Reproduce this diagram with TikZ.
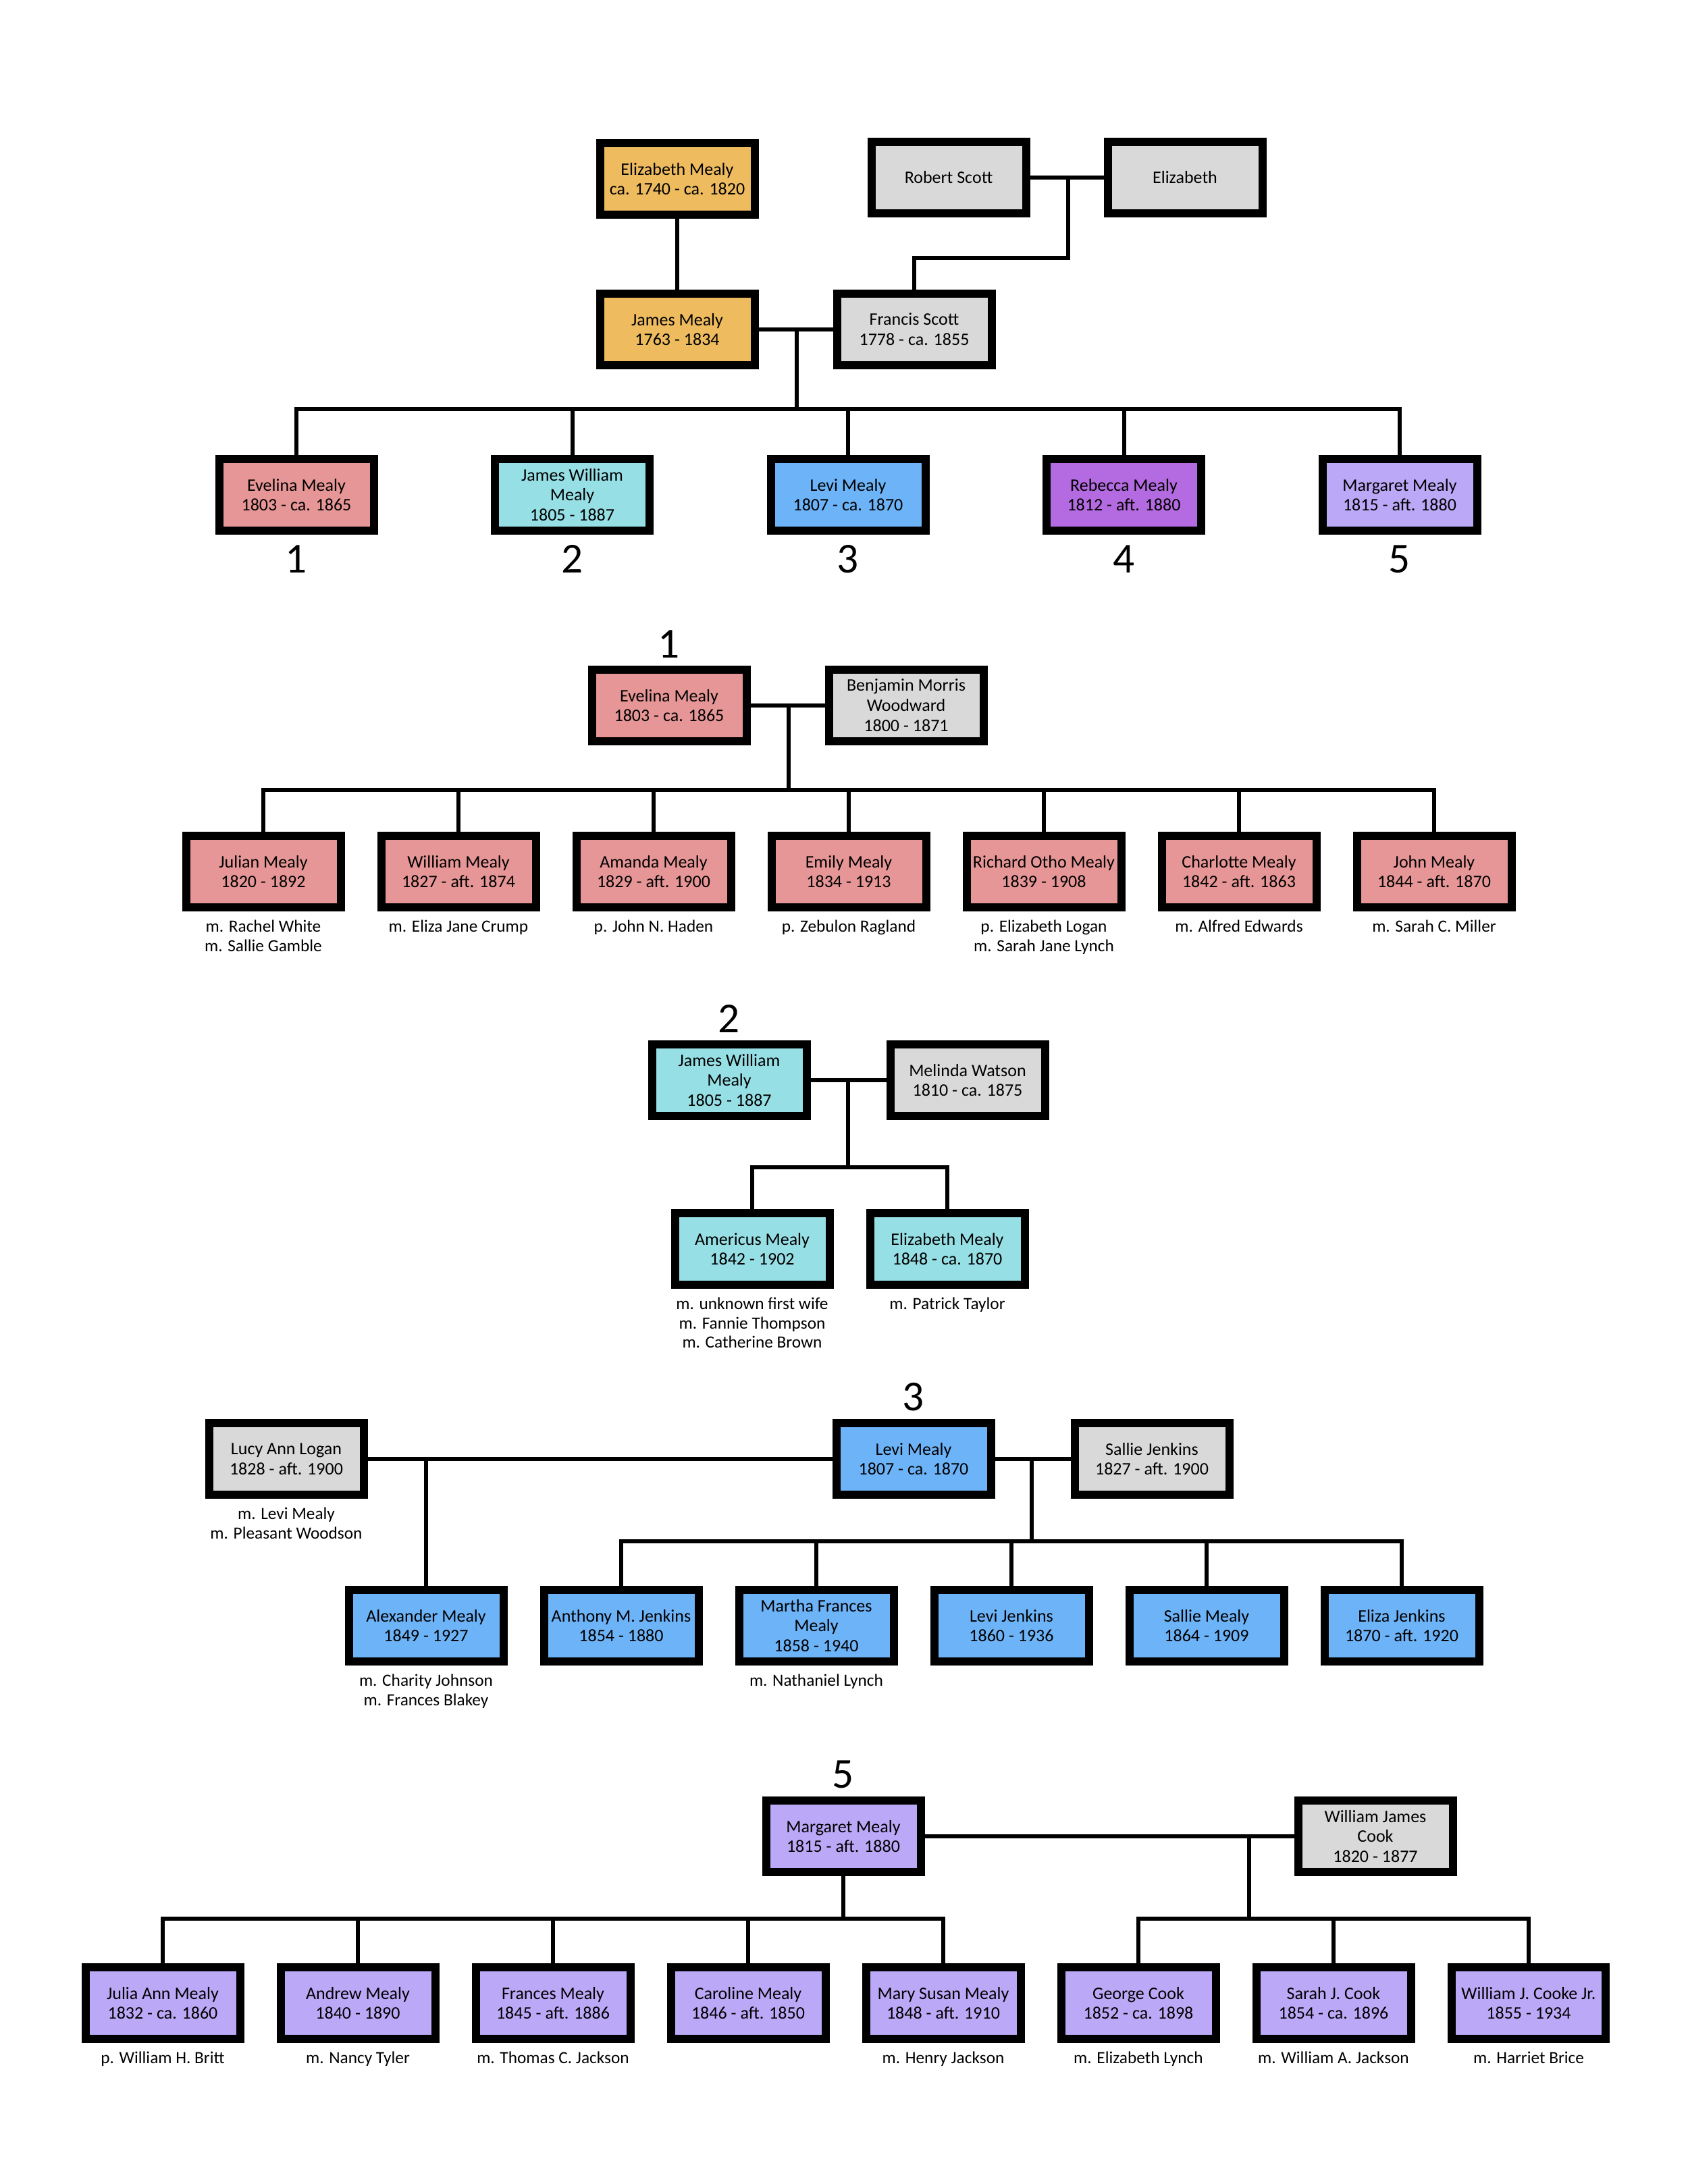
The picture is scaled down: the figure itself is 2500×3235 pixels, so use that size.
\documentclass[tikz,border=0pt]{standalone}
\usepackage{fontspec}
\setmainfont{Carlito}
\usepackage{xcolor}
\usepackage{tikz}
\usetikzlibrary{positioning}
\definecolor{gold}{HTML}{EEBC5F}
\definecolor{greybox}{HTML}{D9D9D9}
\definecolor{rose}{HTML}{E69696}
\definecolor{aqua}{HTML}{96DFE5}
\definecolor{sky}{HTML}{6DB3F8}
\definecolor{orchid}{HTML}{B46AE0}
\definecolor{lilac}{HTML}{BBA8F7}

\begin{document}
\begin{tikzpicture}[x=0.1mm, y=-0.1mm,
    person/.style={draw, line width=1.2mm, rectangle, minimum width=22.9mm, minimum height=10.6mm, inner sep=0.3mm, align=center, font=\fontsize{7.4}{8.5}\selectfont},
    elder/.style={person, fill=gold},
    spouse/.style={person, fill=greybox},
    evelina/.style={person, fill=rose},
    jamesw/.style={person, fill=aqua},
    levi/.style={person, fill=sky},
    rebecca/.style={person, fill=orchid},
    margaret/.style={person, fill=lilac},
    link/.style={line width=0.6mm},
    note/.style={inner sep=0, align=center, font=\fontsize{7.2}{8.2}\selectfont},
    num/.style={inner sep=0, font=\fontsize{18}{20}\selectfont}
]
\useasboundingbox (0,0) rectangle (2500,3235);

% Parents and grandparents
\node[elder] (elizm) at (1003,265) {Elizabeth Mealy\\ca. 1740 - ca. 1820};
\node[spouse] (robert) at (1405,263) {Robert Scott};
\node[spouse, right=10.9mm of robert] (elizs) {Elizabeth};
\node[elder] (jamesm) at (1003,488) {James Mealy\\1763 - 1834};
\node[spouse] (francis) at (1354,488) {Francis Scott\\1778 - ca. 1855};

% Children of James and Francis
\node[evelina] (c1) at (439,733) {Evelina Mealy\\1803 - ca. 1865};
\node[jamesw, right=16.75mm of c1] (c2) {James William\\Mealy\\1805 - 1887};
\node[levi, right=16.75mm of c2] (c3) {Levi Mealy\\1807 - ca. 1870};
\node[rebecca, right=16.75mm of c3] (c4) {Rebecca Mealy\\1812 - aft. 1880};
\node[margaret, right=16.75mm of c4] (c5) {Margaret Mealy\\1815 - aft. 1880};
\node[num, below=1.5mm of c1] (n1) {1};
\node[num, below=1.5mm of c2] (n2) {2};
\node[num, below=1.5mm of c3] (n3) {3};
\node[num, below=1.5mm of c4] (n4) {4};
\node[num, below=1.5mm of c5] (n5) {5};

\coordinate (rsj) at (1582,263);
\coordinate (jfj) at (1180,488);
\coordinate (bus0) at (1180,606);
\draw[link] (elizm) -- (jamesm);
\draw[link] (robert) -- (elizs);
\draw[link] (rsj) -- ++(0,119) -| (francis.north);
\draw[link] (jamesm) -- (francis);
\draw[link] (jfj) -- (bus0);
\draw[link] (c1.north) |- (c5.north |- bus0) -- (c5.north);
\foreach \k in {c2,c3,c4} \draw[link] (\k.north) -- (\k.north |- bus0);

% 1: Evelina
\node[evelina] (ev) at (991,1045) {Evelina Mealy\\1803 - ca. 1865};
\node[num, above=1.1mm of ev] (h1) {1};
\node[spouse, right=11mm of ev] (bmw) {Benjamin Morris\\Woodward\\1800 - 1871};
\node[evelina] (ev1) at (390,1291) {Julian Mealy\\1820 - 1892};
\node[evelina, right=4.8mm of ev1] (ev2) {William Mealy\\1827 - aft. 1874};
\node[evelina, right=4.8mm of ev2] (ev3) {Amanda Mealy\\1829 - aft. 1900};
\node[evelina, right=4.8mm of ev3] (ev4) {Emily Mealy\\1834 - 1913};
\node[evelina, right=4.8mm of ev4] (ev5) {Richard Otho Mealy\\1839 - 1908};
\node[evelina, right=4.8mm of ev5] (ev6) {Charlotte Mealy\\1842 - aft. 1863};
\node[evelina, right=4.8mm of ev6] (ev7) {John Mealy\\1844 - aft. 1870};
\node[note, below=1.2mm of ev1] {m. Rachel White\\m. Sallie Gamble};
\node[note, below=1.2mm of ev2] {m. Eliza Jane Crump};
\node[note, below=1.2mm of ev3] {p. John N. Haden};
\node[note, below=1.2mm of ev4] {p. Zebulon Ragland};
\node[note, below=1.2mm of ev5] {p. Elizabeth Logan\\m. Sarah Jane Lynch};
\node[note, below=1.2mm of ev6] {m. Alfred Edwards};
\node[note, below=1.2mm of ev7] {m. Sarah C. Miller};

\coordinate (j1) at (1168,1045);
\coordinate (bus1) at (1168,1170);
\draw[link] (ev) -- (bmw);
\draw[link] (j1) -- (bus1);
\draw[link] (ev1.north) |- (ev7.north |- bus1) -- (ev7.north);
\foreach \k in {ev2,ev3,ev4,ev5,ev6} \draw[link] (\k.north) -- (\k.north |- bus1);

% 2: James William
\node[jamesw] (jw) at (1080,1600) {James William\\Mealy\\1805 - 1887};
\node[num, above=1.1mm of jw] (h2) {2};
\node[spouse, right=11.2mm of jw] (melinda) {Melinda Watson\\1810 - ca. 1875};
\node[jamesw] (jw1) at (1114,1850) {Americus Mealy\\1842 - 1902};
\node[jamesw, right=4.8mm of jw1] (jw2) {Elizabeth Mealy\\1848 - ca. 1870};
\node[note, below=1.2mm of jw1] {m. unknown first wife\\m. Fannie Thompson\\m. Catherine Brown};
\node[note, below=1.2mm of jw2] {m. Patrick Taylor};

\coordinate (j2) at (1256,1600);
\coordinate (bus2) at (1256,1729);
\draw[link] (jw) -- (melinda);
\draw[link] (j2) -- (bus2);
\draw[link] (jw1.north) |- (jw2.north |- bus2) -- (jw2.north);

% 3: Levi
\node[spouse] (lucy) at (424,2161) {Lucy Ann Logan\\1828 - aft. 1900};
\node[note, below=1.2mm of lucy] {m. Levi Mealy\\m. Pleasant Woodson};
\node[levi] (lv) at (1353,2161) {Levi Mealy\\1807 - ca. 1870};
\node[num, above=1.1mm of lv] (h3) {3};
\node[spouse, right=11.2mm of lv] (sallie) {Sallie Jenkins\\1827 - aft. 1900};
\node[levi] (lv1) at (631,2408) {Alexander Mealy\\1849 - 1927};
\node[levi, right=4.8mm of lv1] (lv2) {Anthony M. Jenkins\\1854 - 1880};
\node[levi, right=4.8mm of lv2] (lv3) {Martha Frances\\Mealy\\1858 - 1940};
\node[levi, right=4.8mm of lv3] (lv4) {Levi Jenkins\\1860 - 1936};
\node[levi, right=4.8mm of lv4] (lv5) {Sallie Mealy\\1864 - 1909};
\node[levi, right=4.8mm of lv5] (lv6) {Eliza Jenkins\\1870 - aft. 1920};
\node[note, below=1.2mm of lv1] {m. Charity Johnson\\m. Frances Blakey};
\node[note, below=1.2mm of lv3] {m. Nathaniel Lynch};

\coordinate (jl) at (631,2161);
\coordinate (j3) at (1528,2161);
\coordinate (bus3) at (1528,2283);
\draw[link] (lucy) -- (lv);
\draw[link] (jl) -- (lv1.north);
\draw[link] (lv) -- (sallie);
\draw[link] (j3) -- (bus3);
\draw[link] (lv2.north) |- (lv6.north |- bus3) -- (lv6.north);
\foreach \k in {lv3,lv4,lv5} \draw[link] (\k.north) -- (\k.north |- bus3);

% 5: Margaret
\node[margaret] (mm) at (1249,2720) {Margaret Mealy\\1815 - aft. 1880};
\node[num, above=1.1mm of mm] (h5) {5};
\node[spouse] (wjc) at (2037,2720) {William James\\Cook\\1820 - 1877};
\node[margaret] (mm1) at (241,2967) {Julia Ann Mealy\\1832 - ca. 1860};
\node[margaret, right=4.8mm of mm1] (mm2) {Andrew Mealy\\1840 - 1890};
\node[margaret, right=4.8mm of mm2] (mm3) {Frances Mealy\\1845 - aft. 1886};
\node[margaret, right=4.8mm of mm3] (mm4) {Caroline Mealy\\1846 - aft. 1850};
\node[margaret, right=4.8mm of mm4] (mm5) {Mary Susan Mealy\\1848 - aft. 1910};
\node[margaret, right=4.8mm of mm5] (mm6) {George Cook\\1852 - ca. 1898};
\node[margaret, right=4.8mm of mm6] (mm7) {Sarah J. Cook\\1854 - ca. 1896};
\node[margaret, right=4.8mm of mm7] (mm8) {William J. Cooke Jr.\\1855 - 1934};
\node[note, below=1.2mm of mm1] {p. William H. Britt};
\node[note, below=1.2mm of mm2] {m. Nancy Tyler};
\node[note, below=1.2mm of mm3] {m. Thomas C. Jackson};
\node[note, below=1.2mm of mm5] {m. Henry Jackson};
\node[note, below=1.2mm of mm6] {m. Elizabeth Lynch};
\node[note, below=1.2mm of mm7] {m. William A. Jackson};
\node[note, below=1.2mm of mm8] {m. Harriet Brice};

\coordinate (j5) at (1850,2720);
\coordinate (bus5) at (1850,2842);
\draw[link] (mm) -- (wjc);
\draw[link] (mm.south) -- (mm.south |- bus5);
\draw[link] (mm1.north) |- (mm5.north |- bus5) -- (mm5.north);
\foreach \k in {mm2,mm3,mm4} \draw[link] (\k.north) -- (\k.north |- bus5);
\draw[link] (j5) -- (bus5);
\draw[link] (mm6.north) |- (mm8.north |- bus5) -- (mm8.north);
\draw[link] (mm7.north) -- (mm7.north |- bus5);

\end{tikzpicture}
\end{document}
